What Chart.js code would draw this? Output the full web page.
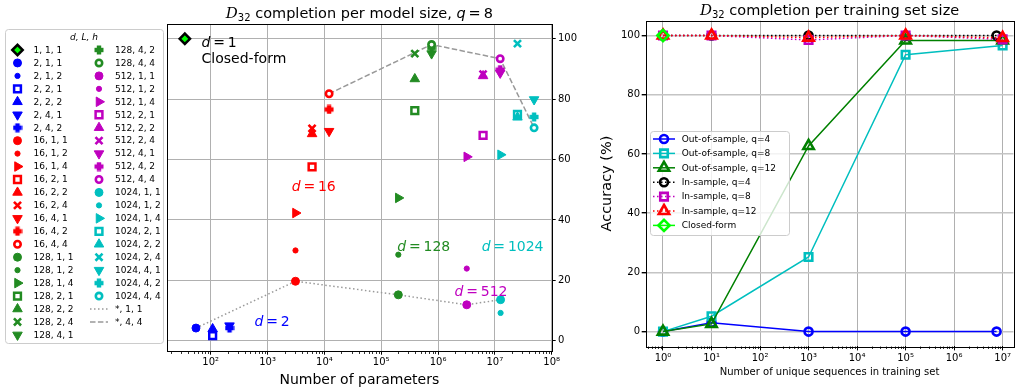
<!DOCTYPE html>
<html>
<head>
<meta charset="utf-8">
<script src="https://cdn.jsdelivr.net/npm/chart.js@4.4.0/dist/chart.umd.min.js"></script>
<style>
  html, body { margin: 0; padding: 0; background: #fff; }
  #wrap { position: relative; width: 1022px; height: 390px; overflow: hidden; }
  .panel { position: absolute; top: 0; height: 390px; }
  #sizePanel { left: 0; width: 595px; }
  #trainPanel { left: 595px; width: 427px; }
</style>
</head>
<body>
<div id="wrap">
  <div class="panel" id="sizePanel"><canvas id="sizeChart"></canvas></div>
  <div class="panel" id="trainPanel"><canvas id="trainChart"></canvas></div>
</div>
<script>
// ---------- model size sweep (q = 8) ----------
var lhConfigs = ["1, 1", "1, 2", "1, 4", "2, 1", "2, 2", "2, 4", "4, 1", "4, 2", "4, 4"];
var d2Configs = ["1, 1", "1, 2", "2, 1", "2, 2", "4, 1", "4, 2"];

var closedFormParams = [35];
var closedFormAcc = [100];

var d2Params = [55, 55, 108, 108, 214, 214];
var d2Acc = [4.2, 4.2, 1.7, 3.9, 5.0, 4.2];

var d16Params = [3100, 3100, 3100, 6070, 6070, 6070, 12100, 12100, 12100];
var d16Acc = [19.7, 29.9, 42.3, 57.6, 68.5, 70.3, 69.4, 76.6, 81.8];

var d128Params = [2.0e5, 2.0e5, 2.0e5, 3.9e5, 3.9e5, 3.9e5, 7.7e5, 7.7e5, 7.7e5];
var d128Acc = [15.2, 28.5, 47.3, 76.2, 86.7, 95.1, 95.1, 97.0, 98.1];

var d512Params = [3.2e6, 3.2e6, 3.2e6, 6.2e6, 6.2e6, 6.2e6, 1.24e7, 1.24e7, 1.24e7];
var d512Acc = [11.9, 23.9, 60.9, 68.0, 87.7, 88.3, 88.7, 89.8, 93.4];

var d1024Params = [1.26e7, 1.26e7, 1.26e7, 2.5e7, 2.5e7, 2.5e7, 4.9e7, 4.9e7, 4.9e7];
var d1024Acc = [13.6, 9.2, 61.6, 75.0, 74.0, 98.4, 79.9, 74.1, 70.5];

var paramDecades = [1, 2, 3, 4, 5, 6, 7, 8];
var accTicks = [0, 20, 40, 60, 80, 100];

// ---------- training set sweep ----------
var trainSizes = [1, 10, 1000, 1e5, 1e7];
var trainSizesQ4 = [1, 10, 1000, 1e5, 7.5e6];
var outQ4 = [0, 3.0, 0, 0, 0];
var outQ8 = [0, 5.2, 25.2, 93.5, 96.6];
var outQ12 = [0, 2.6, 62.7, 98.3, 98.3];
var inQ4 = [100, 100, 100, 100, 100];
var inQ8 = [100, 100, 98.5, 100, 98.7];
var inQ12 = [100, 100, 99.3, 100, 99.2];
var closedFormSize = [1];
var closedFormTrainAcc = [100];

var setDecades = [-1, 0, 1, 2, 3, 4, 5, 6, 7];

Chart.defaults.font.family = "'DejaVu Sans', sans-serif";
Chart.defaults.font.size = 10;
Chart.defaults.color = "#000";

var BLUE = "#0000ff", RED = "#ff0000", GREEN = "#228b22", MAGENTA = "#bf00bf", CYAN = "#00bfbf";
var FONT = "'DejaVu Sans', sans-serif";

var depthGroups = [
    { d: 2, configs: d2Configs, params: d2Params, acc: d2Acc, color: BLUE },
    { d: 16, configs: lhConfigs, params: d16Params, acc: d16Acc, color: RED },
    { d: 128, configs: lhConfigs, params: d128Params, acc: d128Acc, color: GREEN },
    { d: 512, configs: lhConfigs, params: d512Params, acc: d512Acc, color: MAGENTA },
    { d: 1024, configs: lhConfigs, params: d1024Params, acc: d1024Acc, color: CYAN },
];

// "d = .." group labels, placed in data coordinates
var groupNotes = [
    { d: "2", x: 1200, y: 6.4, color: BLUE },
    { d: "16", x: 6500, y: 51.4, color: RED },
    { d: "128", x: 5.6e5, y: 31.5, color: GREEN },
    { d: "512", x: 5.7e6, y: 16.6, color: MAGENTA },
    { d: "1024", x: 2.05e7, y: 31.5, color: CYAN },
];

function plusMarker(color, size) {
    var c = document.createElement("canvas");
    c.width = c.height = size;
    var g = c.getContext("2d"), m = size / 2, t = size * 0.22;
    g.fillStyle = color;
    g.fillRect(m - t, 0.5, 2 * t, size - 1);
    g.fillRect(0.5, m - t, size - 1, 2 * t);
    return c;
}

function markerFor(lh, color) {
    switch (lh) {
        case "1, 1": return { style: "circle", radius: 4, border: 1, fill: color };
        case "1, 2": return { style: "circle", radius: 2.6, border: 1, fill: color };
        case "1, 4": return { style: "triangle", radius: 5.5, border: 1, fill: color, rotation: 90 };
        case "2, 1": return { style: "rect", radius: 4.8, border: 2.5, fill: "#ffffff" };
        case "2, 2": return { style: "triangle", radius: 5.5, border: 1, fill: color };
        case "2, 4": return { style: "crossRot", radius: 5, border: 2.6, fill: color };
        case "4, 1": return { style: "triangle", radius: 5.5, border: 1, fill: color, rotation: 180 };
        case "4, 2": return { style: plusMarker(color, 10), radius: 5, border: 0, fill: color };
        default: return { style: "circle", radius: 3.2, border: 2.6, fill: "#ffffff" };
    }
}

function pointSet(label, x, y, color, m, i) {
    return {
        label: label,
        data: [{ x: x, y: y }],
        pointStyle: m.style,
        pointRadius: m.radius,
        pointRotation: m.rotation || 0,
        pointBackgroundColor: m.fill,
        pointBorderColor: color,
        pointBorderWidth: m.border,
        order: -i,
    };
}

var sizeSets = [];
sizeSets.push(pointSet("1, 1, 1", closedFormParams[0], closedFormAcc[0], "#000000",
    { style: "rectRot", radius: 5.2, border: 2.5, fill: "#00ff00" }, 0));
depthGroups.forEach(function (g) {
    g.configs.forEach(function (lh, k) {
        sizeSets.push(pointSet(g.d + ", " + lh, g.params[k], g.acc[k], g.color, markerFor(lh, g.color), sizeSets.length));
    });
});

function trendLine(label, lh, dash) {
    var pts = [];
    depthGroups.forEach(function (g) {
        var k = g.configs.indexOf(lh);
        if (k >= 0) pts.push({ x: g.params[k], y: g.acc[k] });
    });
    return {
        label: label, data: pts, showLine: true, pointRadius: 0,
        borderColor: "#999999", borderWidth: 1.5, borderDash: dash, order: 100,
    };
}
sizeSets.push(trendLine("*, 1, 1", "1, 1", [1.5, 2.5]));
sizeSets.push(trendLine("*, 4, 4", "4, 4", [5.5, 2.4]));

// ---------- helpers ----------
var SUP = { "0": "\u2070", "1": "\u00b9", "2": "\u00b2", "3": "\u00b3", "4": "\u2074", "5": "\u2075",
    "6": "\u2076", "7": "\u2077", "8": "\u2078", "9": "\u2079", "-": "\u207b" };
function powLabel(v) {
    var e = Math.round(Math.log10(v));
    if (Math.abs(Math.pow(10, e) - v) > 1e-9 * v) return "";
    return "10" + String(e).split("").map(function (c) { return SUP[c]; }).join("");
}

function logTicks(decades, min, max) {
    var out = [];
    decades.forEach(function (e) {
        for (var m = 1; m < 10; m++) {
            var v = m * Math.pow(10, e);
            if (v >= min && v <= max) out.push({ value: v, major: m === 1 });
        }
    });
    return out;
}

function drawParts(ctx, parts, x, y, align) {
    var w = 0;
    parts.forEach(function (p) { ctx.font = p.font; p.w = ctx.measureText(p.text).width; w += p.w; });
    var cx = align === "center" ? x - w / 2 : x;
    ctx.textAlign = "left";
    ctx.textBaseline = "alphabetic";
    parts.forEach(function (p) {
        ctx.font = p.font;
        ctx.fillStyle = p.color || "#000";
        ctx.fillText(p.text, cx, y + (p.dy || 0));
        cx += p.w;
    });
}

function drawTitle(chart, rest, baseline) {
    var a = chart.chartArea;
    var parts = [
        { text: "D", font: "italic 15px 'DejaVu Serif', serif" },
        { text: "32", font: "10px " + FONT, dy: 3 },
        { text: " ", font: "14.5px " + FONT },
    ].concat(rest);
    drawParts(chart.ctx, parts, (a.left + a.right) / 2, baseline, "center");
}

function drawFrame(chart) {
    var a = chart.chartArea, ctx = chart.ctx;
    ctx.save();
    ctx.strokeStyle = "#000";
    ctx.lineWidth = 1;
    ctx.strokeRect(Math.round(a.left) + 0.5, Math.round(a.top) + 0.5,
        Math.round(a.right - a.left), Math.round(a.bottom - a.top));
    ctx.restore();
}

function drawMinorTicks(chart) {
    var s = chart.scales.x, ctx = chart.ctx, y = Math.round(chart.chartArea.bottom) + 0.5;
    ctx.save();
    ctx.strokeStyle = "#000";
    ctx.lineWidth = 0.8;
    s.ticks.forEach(function (t) {
        if (t.major) return;
        var x = Math.round(s.getPixelForValue(t.value)) + 0.5;
        ctx.beginPath();
        ctx.moveTo(x, y);
        ctx.lineTo(x, y + 2.5);
        ctx.stroke();
    });
    ctx.restore();
}

function roundBox(ctx, x, y, w, h, r) {
    ctx.beginPath();
    ctx.moveTo(x + r, y);
    ctx.arcTo(x + w, y, x + w, y + h, r);
    ctx.arcTo(x + w, y + h, x, y + h, r);
    ctx.arcTo(x, y + h, x, y, r);
    ctx.arcTo(x, y, x + w, y, r);
    ctx.closePath();
}

function drawKey(chart, key) {
    var ctx = chart.ctx, sets = chart.data.datasets, i = 0;
    ctx.save();
    roundBox(ctx, key.box[0] + 0.5, key.box[1] + 0.5, key.box[2], key.box[3], 3);
    ctx.fillStyle = "rgba(255,255,255,0.8)";
    ctx.fill();
    ctx.strokeStyle = "#cccccc";
    ctx.lineWidth = 1;
    ctx.stroke();
    if (key.title) {
        drawParts(ctx, [{ text: key.title, font: "italic 9px " + FONT }],
            key.box[0] + key.box[2] / 2, key.titleY, "center");
    }
    key.columns.forEach(function (col) {
        for (var r = 0; r < col.count; r++, i++) {
            var ds = sets[i], y = key.rowY + r * key.rowStep;
            if (ds.showLine) {
                ctx.save();
                ctx.strokeStyle = ds.borderColor;
                ctx.lineWidth = ds.borderWidth;
                ctx.setLineDash(ds.borderDash || []);
                ctx.beginPath();
                ctx.moveTo(col.lineX[0], y);
                ctx.lineTo(col.lineX[1], y);
                ctx.stroke();
                ctx.restore();
            }
            if (ds.pointRadius > 0) {
                ctx.save();
                ctx.fillStyle = ds.pointBackgroundColor;
                ctx.strokeStyle = ds.pointBorderColor;
                ctx.lineWidth = ds.pointBorderWidth;
                Chart.helpers.drawPoint(ctx, {
                    pointStyle: ds.pointStyle, rotation: ds.pointRotation || 0,
                    radius: ds.pointRadius, borderWidth: ds.pointBorderWidth,
                }, col.markX, y);
                ctx.restore();
            }
            ctx.fillStyle = "#000";
            ctx.font = "9px " + FONT;
            ctx.textAlign = "left";
            ctx.textBaseline = "middle";
            ctx.fillText(ds.label, col.textX, y + 0.5);
        }
    });
    ctx.restore();
}

var majorGrid = {
    color: function (c) { return c.tick && c.tick.major ? "#b0b0b0" : "rgba(0,0,0,0)"; },
    tickColor: function (c) { return c.tick && c.tick.major ? "#000" : "rgba(0,0,0,0)"; },
    lineWidth: 1, tickLength: 4, tickWidth: 1,
};

// ---------- left panel ----------
var sizeDecor = {
    id: "sizeDecor",
    afterDraw: function (chart) {
        var ctx = chart.ctx, sx = chart.scales.x, sy = chart.scales.y;
        drawFrame(chart);
        drawMinorTicks(chart);
        ctx.save();
        groupNotes.forEach(function (n) {
            drawParts(ctx, [
                { text: "d", font: "italic 14px " + FONT, color: n.color },
                { text: "\u2009=\u2009" + n.d, font: "14px " + FONT, color: n.color },
            ], sx.getPixelForValue(n.x), sy.getPixelForValue(n.y) + 5, "center");
        });
        var nx = sx.getPixelForValue(69);
        drawParts(ctx, [
            { text: "d", font: "italic 14px " + FONT },
            { text: "\u2009=\u20091", font: "14px " + FONT },
        ], nx, sy.getPixelForValue(98.8) + 5, "left");
        drawParts(ctx, [{ text: "Closed-form", font: "14px " + FONT }], nx, sy.getPixelForValue(93.5) + 5, "left");
        drawTitle(chart, [
            { text: "completion per model size, ", font: "14.5px " + FONT },
            { text: "q", font: "italic 14.5px " + FONT },
            { text: "\u2009=\u20098", font: "14.5px " + FONT },
        ], 18);
        ctx.restore();
        drawKey(chart, {
            box: [5, 29, 158, 314], title: "d, L, h", titleY: 40,
            rowY: 50, rowStep: 12.95,
            columns: [
                { count: 23, markX: 17.5, textX: 33.5, lineX: [8, 27] },
                { count: 22, markX: 99, textX: 115, lineX: [90, 108] },
            ],
        });
    },
};

new Chart(document.getElementById("sizeChart"), {
    type: "scatter",
    data: { datasets: sizeSets },
    options: {
        responsive: true, maintainAspectRatio: false, animation: false, events: [],
        devicePixelRatio: 1,
        layout: { padding: { left: 167, top: 24, right: 0, bottom: 0 } },
        plugins: { legend: { display: false }, tooltip: { enabled: false } },
        scales: {
            x: {
                type: "logarithmic", min: 17, max: 1e8,
                afterBuildTicks: function (s) { s.ticks = logTicks(paramDecades, s.min, s.max); },
                afterFit: function (s) { s.height = 39.3; },
                grid: majorGrid,
                border: { display: false },
                ticks: { autoSkip: false, maxRotation: 0, padding: 2, callback: function (v) { return powLabel(v); } },
                title: { display: true, text: "Number of parameters", font: { size: 14 }, padding: { top: 0, bottom: 1 } },
            },
            y: {
                position: "right", min: -3.3, max: 104.9,
                afterBuildTicks: function (s) { s.ticks = accTicks.map(function (v) { return { value: v }; }); },
                afterFit: function (s) { s.width = 43.3; },
                grid: { color: "#b0b0b0", tickColor: "#000", lineWidth: 1, tickLength: 4 },
                border: { display: false },
                ticks: { padding: 2.3 },
            },
        },
    },
    plugins: [sizeDecor],
});

// ---------- right panel ----------
function seriesSet(label, xs, ys, color, style, radius, dashed, i) {
    return {
        label: label,
        data: xs.map(function (x, k) { return { x: x, y: ys[k] }; }),
        showLine: true,
        borderColor: color,
        borderWidth: 1.5,
        borderDash: dashed ? [1.5, 2.5] : [],
        pointStyle: style,
        pointRadius: radius,
        pointBackgroundColor: "rgba(0,0,0,0)",
        pointBorderColor: color,
        pointBorderWidth: 2.6,
        order: -i,
    };
}

var trainSets = [
    seriesSet("Out-of-sample, q=4", trainSizesQ4, outQ4, "#0000ff", "circle", 4, false, 0),
    seriesSet("Out-of-sample, q=8", trainSizes, outQ8, "#00bfbf", "rect", 5.3, false, 1),
    seriesSet("Out-of-sample, q=12", trainSizes, outQ12, "#008000", "triangle", 6, false, 2),
    seriesSet("In-sample, q=4", trainSizesQ4, inQ4, "#000000", "circle", 4, true, 3),
    seriesSet("In-sample, q=8", trainSizes, inQ8, "#bf00bf", "rect", 5.3, true, 4),
    seriesSet("In-sample, q=12", trainSizes, inQ12, "#ff0000", "triangle", 6, true, 5),
    seriesSet("Closed-form", closedFormSize, closedFormTrainAcc, "#00ff00", "rectRot", 5.6, false, 6),
];

var trainDecor = {
    id: "trainDecor",
    afterDraw: function (chart) {
        drawFrame(chart);
        drawMinorTicks(chart);
        drawTitle(chart, [{ text: "completion per training set size", font: "14.5px " + FONT }], 15);
        drawKey(chart, {
            box: [55, 131, 139, 104],
            rowY: 139, rowStep: 14.4,
            columns: [{ count: 7, markX: 69, textX: 86.7, lineX: [58, 80] }],
        });
    },
};

new Chart(document.getElementById("trainChart"), {
    type: "scatter",
    data: { datasets: trainSets },
    options: {
        responsive: true, maintainAspectRatio: false, animation: false, events: [],
        devicePixelRatio: 1,
        layout: { padding: { left: 0, top: 20.7, right: 1.7, bottom: 0 } },
        plugins: { legend: { display: false }, tooltip: { enabled: false } },
        scales: {
            x: {
                type: "logarithmic", min: 0.44, max: 1.667e7,
                afterBuildTicks: function (s) { s.ticks = logTicks(setDecades, s.min, s.max); },
                afterFit: function (s) { s.height = 43.6; },
                grid: majorGrid,
                border: { display: false },
                ticks: { autoSkip: false, maxRotation: 0, padding: 2, callback: function (v) { return powLabel(v); } },
                title: { display: true, text: "Number of unique sequences in training set", font: { size: 10 }, padding: { top: 0, bottom: 11.4 } },
            },
            y: {
                min: -5, max: 105,
                afterBuildTicks: function (s) { s.ticks = accTicks.map(function (v) { return { value: v }; }); },
                afterFit: function (s) { s.width = 50.7; },
                grid: { color: "#c4c4c4", tickColor: "#000", lineWidth: 1.4, tickLength: 4 },
                border: { display: false },
                ticks: { padding: 1.7 },
                title: { display: true, text: "Accuracy (%)", font: { size: 14.5 }, padding: { top: 4, bottom: 0 } },
            },
        },
    },
    plugins: [trainDecor],
});
</script>
</body>
</html>
